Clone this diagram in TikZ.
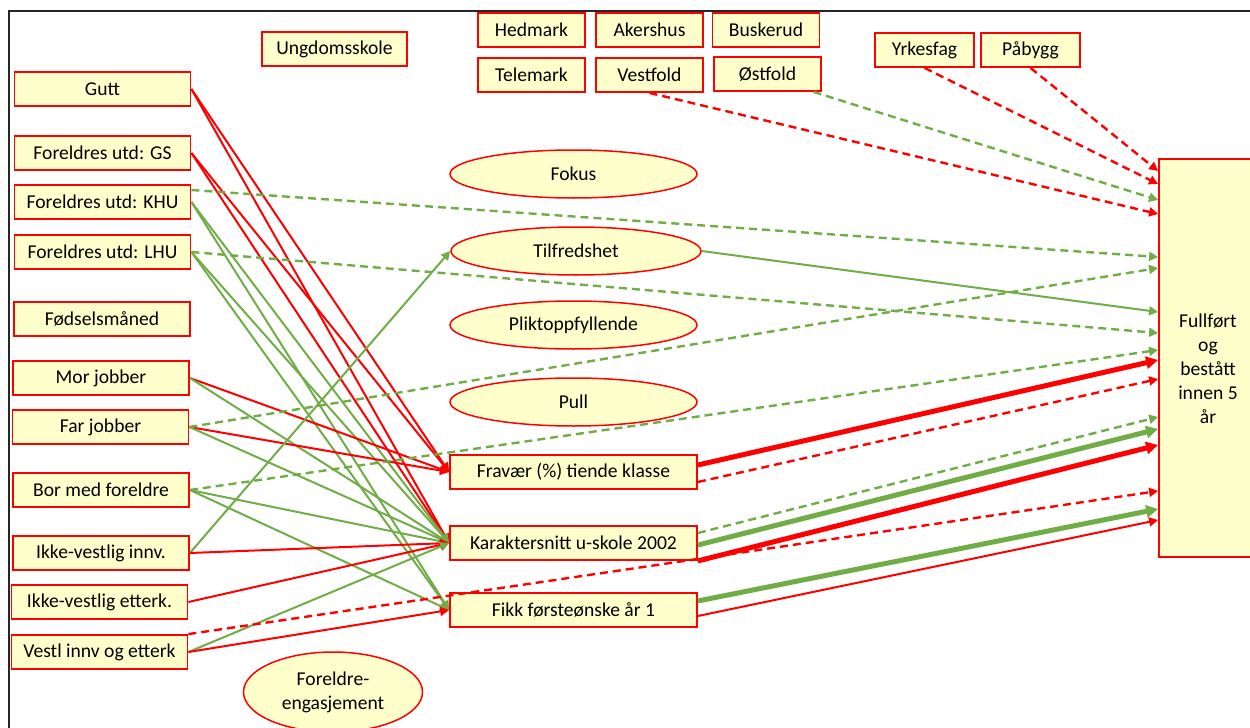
\documentclass[tikz,border=0pt]{standalone}
\usepackage{fontspec}
\setmainfont{Carlito}
\usetikzlibrary{shapes.geometric,arrows.meta}
\definecolor{boxfill}{RGB}{255,255,204}
\definecolor{posgreen}{RGB}{112,173,71}
\definecolor{negred}{RGB}{255,0,0}

\begin{document}
\begin{tikzpicture}[x=0.5pt,y=-0.5pt,
    font=\fontsize{9.8}{12}\selectfont,
    box/.style={draw=negred,fill=boxfill,line width=0.9pt,minimum width=88pt,minimum height=17pt,inner sep=0pt},
    smallbox/.style={box,minimum width=53.5pt},
    midbox/.style={box,minimum width=123.5pt},
    oval/.style={ellipse,draw=negred,fill=boxfill,line width=0.75pt,minimum width=123.5pt,minimum height=24pt,inner sep=0pt},
    poseff/.style={draw=posgreen,line width=1pt,-{Triangle[length=4.5pt,width=4.5pt]}},
    negeff/.style={draw=negred,line width=1pt,-{Triangle[length=4.5pt,width=4.5pt]}},
    weak/.style={line width=1.2pt,dash pattern=on 4pt off 2.5pt},
    strong/.style={line width=2.5pt,-{Triangle[length=6pt,width=6pt]}}]
    \useasboundingbox (0,0) rectangle (1250,728);
    \draw[line width=1pt,black!85] (9,740) -- (9,11) -- (1260,11);

    \node[box,minimum width=72.5pt] (ungdom) at (334.5,49) {Ungdomsskole};
    \node[smallbox] (hedmark) at (531.5,30) {Hedmark};
    \node[smallbox] (akershus) at (649.5,30) {Akershus};
    \node[smallbox] (buskerud) at (766,30) {Buskerud};
    \node[smallbox] (telemark) at (531.5,75) {Telemark};
    \node[smallbox] (vestfold) at (649.5,75) {Vestfold};
    \node[smallbox] (ostfold) at (767.5,74) {Østfold};
    \node[box,minimum width=49.5pt] (yrkesfag) at (924.5,50) {Yrkesfag};
    \node[box,minimum width=49.5pt] (pabygg) at (1030.5,50) {Påbygg};

    \node[box] (gutt) at (102.5,89) {Gutt};
    \node[box] (gs) at (102.5,153) {Foreldres utd: GS};
    \node[box] (khu) at (102.5,202) {Foreldres utd: KHU};
    \node[box] (lhu) at (102.5,252) {Foreldres utd: LHU};
    \node[box] (fodsel) at (102,319) {Fødselsmåned};
    \node[box] (mor) at (101,378) {Mor jobber};
    \node[box] (far) at (100.5,427) {Far jobber};
    \node[box] (bor) at (101,490) {Bor med foreldre};
    \node[box] (ikkeinnv) at (101,553) {Ikke-vestlig innv.};
    \node[box] (ikkeetterk) at (99.5,602) {Ikke-vestlig etterk.};
    \node[box] (vestl) at (99.5,652) {Vestl innv og etterk};

    \node[oval] (fokus) at (573.5,174) {Fokus};
    \node[oval,minimum width=125pt] (tilfreds) at (576,251) {Tilfredshet};
    \node[oval] (plikt) at (573.5,325) {Pliktoppfyllende};
    \node[oval] (pull) at (573.5,402) {Pull};
    \node[oval,align=center,minimum width=89.5pt,minimum height=40pt] (foreldre) at (333,692) {Foreldre-\\engasjement};

    \node[midbox] (fravaer) at (573.5,472) {Fravær (\%) tiende klasse};
    \node[midbox] (karakter) at (573.5,543) {Karaktersnitt u-skole 2002};
    \node[midbox] (fikk) at (573.5,610) {Fikk førsteønske år 1};

    \node[box,minimum width=49pt,minimum height=199pt,
        label={[align=center,yshift=-5.5pt]center:Fullført\\og\\bestått\\innen 5\\år}] (full) at (1208,358) {};

    \draw[negeff] (gutt.east) -- (fravaer.west);
    \draw[negeff] (gutt.east) -- (karakter.west);
    \draw[negeff] (gs.east) -- (fravaer.west);
    \draw[negeff] (gs.east) -- (karakter.west);
    \draw[poseff] (khu.east) -- (karakter.west);
    \draw[poseff] (khu.east) -- (fikk.west);
    \draw[poseff] (lhu.east) -- (karakter.west);
    \draw[poseff] (lhu.east) -- (fikk.west);
    \draw[negeff] (mor.east) -- (fravaer.west);
    \draw[poseff] (mor.east) -- (karakter.west);
    \draw[negeff] (far.east) -- (fravaer.west);
    \draw[poseff] (far.east) -- (karakter.west);
    \draw[poseff] (bor.east) -- (karakter.west);
    \draw[poseff] (bor.east) -- (fikk.west);
    \draw[poseff] (ikkeinnv.east) -- (tilfreds.west);
    \draw[negeff] (ikkeinnv.east) -- (karakter.west);
    \draw[negeff] (ikkeetterk.east) -- (karakter.west);
    \draw[poseff] (vestl.east) -- (karakter.west);
    \draw[negeff] (vestl.east) -- (fikk.west);

    \draw[negeff,weak] (pabygg.south) -- (full.west |- 0,171);
    \draw[negeff,weak] (yrkesfag.south) -- (full.west |- 0,184);
    \draw[poseff,weak] ([xshift=23pt]ostfold.south) -- (full.west |- 0,200);
    \draw[negeff,weak] (vestfold.south) -- (full.west |- 0,214);
    \draw[poseff,weak] ([yshift=6pt]khu.east) -- (full.west |- 0,257);
    \draw[poseff,weak] (far.east) -- (full.west |- 0,268);
    \draw[poseff] (tilfreds.east) -- (full.west |- 0,312);
    \draw[poseff,weak] (lhu.east) -- (full.west |- 0,333);
    \draw[poseff,weak] (bor.east) -- (full.west |- 0,350);
    \draw[negeff,strong] ([yshift=3.5pt]fravaer.east) -- (full.west |- 0,360);
    \draw[negeff,weak] ([yshift=-5pt]fravaer.east) -- (full.west |- 0,379);
    \draw[poseff,weak] ([yshift=5pt]karakter.east) -- (full.west |- 0,417);
    \draw[poseff,strong] ([yshift=-1pt]karakter.east) -- (full.west |- 0,429);
    \draw[negeff,strong] (karakter.south east) -- (full.west |- 0,445);
    \draw[negeff,weak] (vestl.north east) -- (full.west |- 0,491);
    \draw[poseff,strong] ([yshift=4.5pt]fikk.east) -- (full.west |- 0,509);
    \draw[negeff] ([yshift=-3pt]fikk.east) -- (full.west |- 0,520);
\end{tikzpicture}
\end{document}
